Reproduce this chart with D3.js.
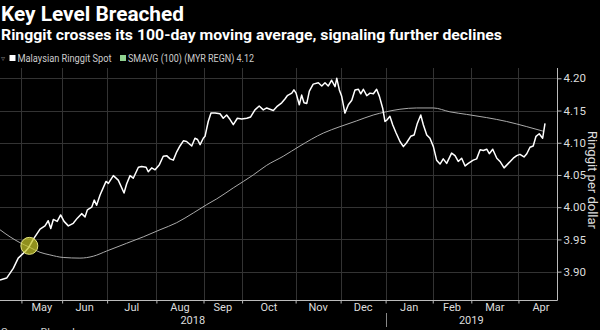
<!DOCTYPE html>
<html><head><meta charset="utf-8">
<script src="https://cdn.jsdelivr.net/npm/d3@7"></script>
<style>html,body{margin:0;padding:0;background:#000;} svg{display:block;}</style>
</head><body>
<svg id="c" width="600" height="330"></svg>
<script>
// ---- data ----
const title = "Key Level Breached";
const subtitle = "Ringgit crosses its 100-day moving average, signaling further declines";
const legendLabels = ["Malaysian Ringgit Spot", "SMAVG (100) (MYR REGN) 4.12"];
const yAxisTitle = "Ringgit per dollar";
const source = "Source: Bloomberg";
// months shown on the axis (trading-day counts; first = visible part of Apr 2018)
const monthLabels = ["Apr","May","Jun","Jul","Aug","Sep","Oct","Nov","Dec","Jan","Feb","Mar","Apr"];
const monthTradingDays = [10,19,21,23,22,18,25,21,21,22,18,22,21];
const visibleDays = 260;
const yearLabels = ["2018","2019"];
const yearStartMonth = [0, 9]; // index in monthLabels where each year starts
const yTicks = [3.90,3.95,4.00,4.05,4.10,4.15,4.20];
const yDomain = [3.856, 4.216];
// [trading day, MYR per USD]
const spotSeries = [[0,3.887],[3.1,3.890],[6.2,3.905],[8.5,3.921],[11.7,3.931],[13.5,3.938],[15.5,3.950],[18.7,3.966],[21,3.971],[22.5,3.979],[23.7,3.967],[24.9,3.981],[26.7,3.978],[28.3,3.988],[29.9,3.978],[31.9,3.971],[34.2,3.975],[36.1,3.983],[38.1,3.990],[39.7,3.985],[40.8,3.996],[42.8,4.000],[44,4.011],[45.1,4.003],[46.7,4.019],[49.5,4.040],[50.6,4.037],[52.9,4.049],[55.2,4.042],[57.9,4.022],[59.1,4.036],[60.7,4.049],[62.2,4.045],[64.6,4.062],[66.1,4.063],[68.2,4.062],[69.2,4.055],[70.8,4.061],[72.4,4.058],[74.4,4.066],[76.2,4.079],[77.8,4.080],[79.4,4.075],[80.9,4.073],[82.5,4.086],[84,4.095],[85.6,4.103],[87.1,4.102],[89.5,4.095],[91,4.107],[92.2,4.105],[93.4,4.097],[94.9,4.107],[95.7,4.110],[97.2,4.133],[98.5,4.146],[100.4,4.146],[102.7,4.145],[104.2,4.138],[105.8,4.143],[107.4,4.136],[108.9,4.128],[110.8,4.138],[112.8,4.137],[115.2,4.138],[117,4.140],[119,4.151],[121,4.157],[122.9,4.151],[124.5,4.154],[126,4.152],[127.6,4.150],[129.2,4.156],[131.5,4.162],[133,4.168],[134.1,4.173],[136.2,4.177],[137.2,4.182],[138.2,4.177],[139.7,4.159],[140.8,4.174],[141.9,4.162],[143.2,4.161],[144.4,4.180],[146.2,4.191],[148.6,4.193],[150.2,4.188],[151.7,4.193],[153.2,4.188],[154.8,4.197],[156.4,4.187],[157.2,4.200],[158.4,4.182],[159.5,4.172],[161,4.146],[162.6,4.159],[164.2,4.166],[165.7,4.182],[167.3,4.183],[168.4,4.176],[169.6,4.183],[171.2,4.173],[172.7,4.177],[174.3,4.176],[175.8,4.183],[177.1,4.172],[178.6,4.154],[179.7,4.133],[180.8,4.136],[182,4.141],[183.3,4.128],[184.8,4.116],[186.7,4.102],[188.3,4.094],[189.8,4.100],[191.7,4.110],[193.3,4.112],[194.8,4.130],[196.4,4.143],[197.6,4.128],[199.2,4.112],[200.7,4.107],[202.3,4.094],[203.8,4.073],[205.4,4.067],[206.9,4.075],[208.5,4.068],[210.8,4.084],[212.4,4.080],[213.9,4.071],[215.5,4.076],[217.1,4.064],[218.6,4.068],[220.9,4.073],[222.5,4.075],[224.1,4.089],[225.6,4.088],[227.2,4.090],[228.4,4.083],[230,4.090],[231.9,4.076],[233.4,4.071],[235.3,4.061],[237.3,4.068],[239.6,4.076],[241.2,4.080],[242.7,4.082],[244.6,4.078],[245.9,4.083],[247.4,4.093],[248.9,4.095],[250.2,4.110],[251.7,4.114],[253.3,4.107],[254.4,4.130]];
const smaSeries = [[0,3.965],[4.7,3.954],[9.3,3.945],[13.7,3.938],[18.7,3.930],[23.3,3.926],[29.5,3.922],[37.3,3.921],[43.6,3.924],[49.8,3.932],[59.1,3.944],[66.9,3.954],[74.7,3.965],[82.5,3.976],[90.2,3.991],[96.5,4.004],[101.2,4.013],[108.9,4.030],[118.2,4.050],[124.5,4.065],[132.2,4.079],[140,4.095],[150.9,4.115],[158.7,4.125],[166.5,4.134],[174.2,4.143],[180.2,4.148],[186.7,4.152],[194.5,4.154],[202.3,4.154],[210,4.148],[217.8,4.144],[227.2,4.139],[236.5,4.133],[245.9,4.125],[253.5,4.118]];
const crossing = [13.7, 3.940];

// ---- layout ----
const W = 600, H = 330;
const plot = {left: 0, right: 557, top: 68, bottom: 300};
const font = "Roboto, 'Noto Sans', sans-serif";
const svg = d3.select("#c");
svg.append("rect").attr("width", W).attr("height", H).attr("fill", "#000");

const x = d3.scaleLinear().domain([0, visibleDays]).range([plot.left, plot.right]);
const y = d3.scaleLinear().domain(yDomain).range([plot.bottom, plot.top]);

// month boundaries
const starts = [];
let acc = 0;
monthTradingDays.forEach(d => { starts.push(acc); acc += d; });

// gridlines
const grid = svg.append("g").attr("stroke", "#333").attr("stroke-width", 1);
grid.selectAll("line.h").data(yTicks).join("line")
  .attr("x1", plot.left).attr("x2", plot.right)
  .attr("y1", d => Math.round(y(d)) + 0.5).attr("y2", d => Math.round(y(d)) + 0.5);
grid.selectAll("line.v").data(starts.slice(1)).join("line")
  .attr("x1", d => Math.round(x(d)) + 0.5).attr("x2", d => Math.round(x(d)) + 0.5)
  .attr("y1", plot.top).attr("y2", plot.bottom);

// axes
const axisColor = "#bbb";
svg.append("line").attr("x1", plot.left).attr("x2", plot.right + 0.5)
  .attr("y1", plot.bottom + 0.5).attr("y2", plot.bottom + 0.5).attr("stroke", axisColor);
svg.append("line").attr("x1", plot.right + 0.5).attr("x2", plot.right + 0.5)
  .attr("y1", plot.top).attr("y2", plot.bottom + 0.5).attr("stroke", axisColor);

const yAxis = d3.axisRight(y).tickValues(yTicks).tickFormat(d3.format(".2f")).tickSize(4).tickPadding(2);
const gy = svg.append("g").attr("transform", `translate(${plot.right + 0.5},0)`).call(yAxis);
gy.select(".domain").remove();
gy.selectAll(".tick line").attr("stroke", axisColor);
gy.selectAll(".tick text").attr("fill", "#ddd").style("font-family", font).style("font-size", "11.5px");

const xAxis = d3.axisBottom(x).tickValues(starts.slice(1)).tickFormat("").tickSize(3);
const gx = svg.append("g").attr("transform", `translate(0,${plot.bottom + 0.5})`).call(xAxis);
gx.select(".domain").remove();
gx.selectAll(".tick line").attr("stroke", axisColor);

// month labels (skip partial first month)
svg.append("g").selectAll("text").data(monthLabels.map((m, i) => ({m, i})).slice(1)).join("text")
  .attr("x", d => x(starts[d.i] + monthTradingDays[d.i] / 2))
  .attr("y", 311).attr("text-anchor", "middle").attr("fill", "#ddd")
  .style("font-family", font).style("font-size", "11px").text(d => d.m);

// year labels and separator
const yearEdges = [x(0), x(starts[yearStartMonth[1]]), x(visibleDays)];
svg.append("g").selectAll("text").data(yearLabels).join("text")
  .attr("x", (d, i) => (yearEdges[i] + yearEdges[i + 1]) / 2)
  .attr("y", 323.5).attr("text-anchor", "middle").attr("fill", "#ddd")
  .style("font-family", font).style("font-size", "11px").text(d => d);
svg.append("line").attr("x1", Math.round(yearEdges[1]) + 0.5).attr("x2", Math.round(yearEdges[1]) + 0.5)
  .attr("y1", 313).attr("y2", 327).attr("stroke", "#888");

// lines
const line = d3.line().x(d => x(d[0])).y(d => y(d[1]));
svg.append("path").datum(smaSeries).attr("fill", "none").attr("stroke", "#aaa").attr("stroke-width", 1)
  .attr("d", line.curve(d3.curveMonotoneX));
svg.append("path").datum(spotSeries).attr("fill", "none").attr("stroke", "#fff").attr("stroke-width", 1.5)
  .attr("stroke-linejoin", "round").attr("d", d3.line().x(d => x(d[0])).y(d => y(d[1]))(spotSeries));

// highlight circle
svg.append("circle").attr("cx", x(crossing[0])).attr("cy", y(crossing[1])).attr("r", 8.5)
  .attr("fill", "rgba(200,200,40,0.72)").attr("stroke", "#e6e680").attr("stroke-width", 1);

// titles
svg.append("text").attr("x", 1).attr("y", 21).attr("fill", "#fff")
  .style("font-family", font).style("font-weight", "bold").style("font-size", "20px")
  .attr("textLength", 183).attr("lengthAdjust", "spacingAndGlyphs").text(title);
svg.append("text").attr("x", 1).attr("y", 40).attr("fill", "#fff")
  .style("font-family", font).style("font-weight", "bold").style("font-size", "15px")
  .attr("textLength", 501).attr("lengthAdjust", "spacingAndGlyphs").text(subtitle);

// legend
svg.append("text").attr("x", 1).attr("y", 61).attr("fill", "#777")
  .style("font-family", font).style("font-size", "8px").text("▿");
svg.append("rect").attr("x", 9.5).attr("y", 55).attr("width", 6).attr("height", 6).attr("fill", "#fff");
svg.append("text").attr("x", 17.5).attr("y", 62).attr("fill", "#ccc")
  .style("font-family", font).style("font-size", "10px")
  .attr("textLength", 94).attr("lengthAdjust", "spacingAndGlyphs").text(legendLabels[0]);
svg.append("rect").attr("x", 120).attr("y", 55).attr("width", 6).attr("height", 6).attr("fill", "#8fd18f");
svg.append("text").attr("x", 128).attr("y", 62).attr("fill", "#ccc")
  .style("font-family", font).style("font-size", "10px")
  .attr("textLength", 126).attr("lengthAdjust", "spacingAndGlyphs").text(legendLabels[1]);

// y axis title
svg.append("text").attr("transform", `translate(588,180) rotate(90)`)
  .attr("text-anchor", "middle").attr("fill", "#ddd")
  .style("font-family", font).style("font-size", "13px").text(yAxisTitle);

// source (cut off at the bottom edge)
svg.append("text").attr("x", 1).attr("y", 336).attr("fill", "#ccc")
  .style("font-family", font).style("font-size", "11px").text(source);
</script>
</body></html>
